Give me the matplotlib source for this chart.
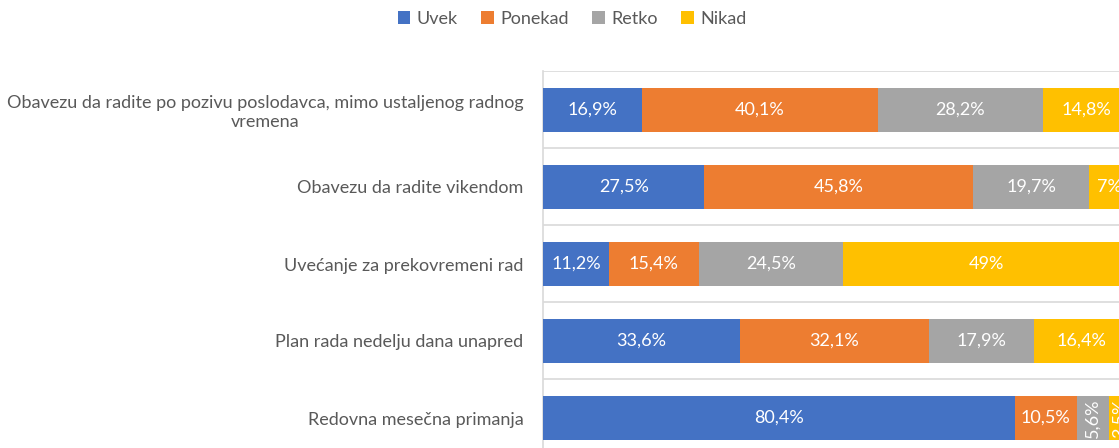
import matplotlib.pyplot as plt
import numpy as np

plt.rcParams['font.family'] = ['Lato', 'DejaVu Sans']

categories = [
    'Obavezu da radite po pozivu poslodavca, mimo ustaljenog radnog\nvremena',
    'Obavezu da radite vikendom',
    'Uvećanje za prekovremeni rad',
    'Plan rada nedelju dana unapred',
    'Redovna mesečna primanja',
]
series_names = ['Uvek', 'Ponekad', 'Retko', 'Nikad']
uvek = [16.9, 27.5, 11.2, 33.6, 80.4]
ponekad = [40.1, 45.8, 15.4, 32.1, 10.5]
retko = [28.2, 19.7, 24.5, 17.9, 5.6]
nikad = [14.8, 7.0, 49.0, 16.4, 3.5]
colors = ['#4472C4', '#ED7D31', '#A5A5A5', '#FFC000']

fig = plt.figure(figsize=(11.19, 4.48), dpi=100)
W, H = 1119, 448
ax = fig.add_axes([543 / W, 1 - 456.5 / H, 587 / W, 385 / H])

y = np.arange(len(categories))
left = np.zeros(len(categories))
for name, vals, col in zip(series_names, [uvek, ponekad, retko, nikad], colors):
    vals = np.array(vals)
    ax.barh(y, vals, left=left, height=0.56, color=col, label=name, zorder=3)
    for yi, (l, v) in enumerate(zip(left, vals)):
        txt = f'{v:g}%'.replace('.', ',')
        rot = 90 if v < 7 else 0
        ax.text(l + v / 2, yi, txt, ha='center', va='center', color='white',
                fontsize=13, rotation=rot, zorder=4)
    left += vals

ax.set_xlim(0, 100)
ax.set_ylim(len(categories) - 0.5, -0.5)
ax.set_yticks(y)
ax.set_yticklabels(categories, fontsize=13, color='#595959')
for lab in ax.get_yticklabels():
    lab.set_multialignment('center')
ax.tick_params(axis='y', length=0, pad=14)
ax.set_xticks([])
for b in np.arange(-0.5, len(categories), 1):
    ax.axhline(b, color='#D9D9D9', lw=1.2, zorder=1)
for s in ['top', 'right', 'bottom']:
    ax.spines[s].set_visible(False)
ax.spines['left'].set_color('#D9D9D9')
ax.spines['left'].set_linewidth(1.2)

fig.legend(loc='center', bbox_to_anchor=(572 / W, 1 - 19 / H), ncol=4,
           frameon=False, fontsize=13, handlelength=0.7, handleheight=0.7,
           handletextpad=0.35, columnspacing=1.3, labelcolor='#595959')

fig.savefig('out.png', dpi=100)
